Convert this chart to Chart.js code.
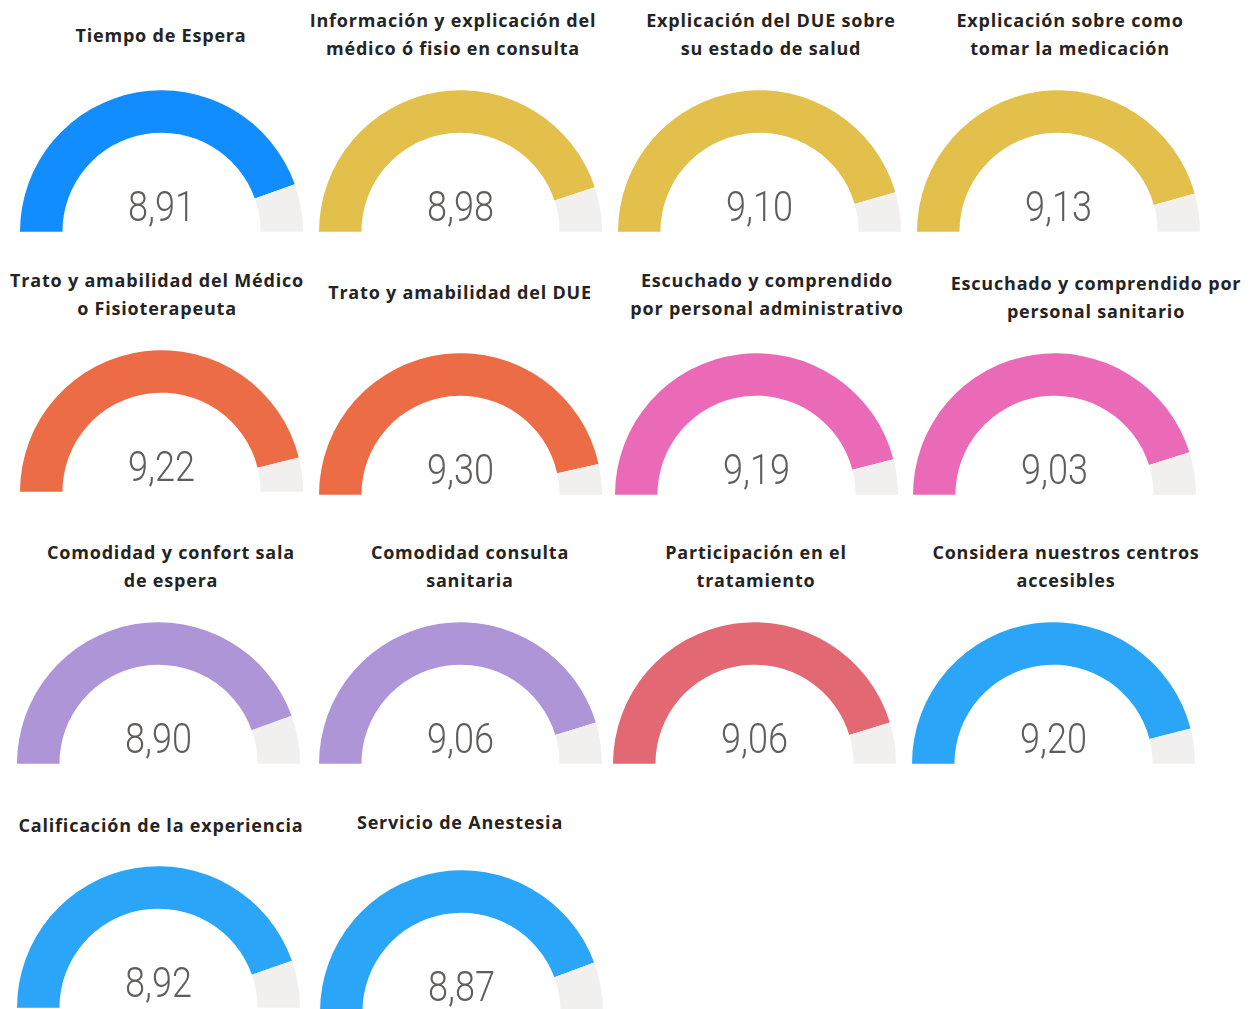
<!DOCTYPE html>
<html>
<head>
<meta charset="utf-8">
<script src="https://cdn.jsdelivr.net/npm/chart.js@4/dist/chart.umd.min.js"></script>
<style>
  html, body { margin: 0; padding: 0; background: #fff; }
  body { width: 1251px; height: 1009px; position: relative; overflow: hidden; }
  .title {
    position: absolute; width: 360px; margin-left: -180px;
    text-align: center; font-family: "Open Sans", sans-serif; font-weight: 700;
    font-size: 18px; letter-spacing: 0.8px; line-height: 28px; color: #252423; white-space: pre;
  }
  .gauge { position: absolute; width: 283px; height: 142px; }
  .value {
    position: absolute; left: 0; width: 100%; bottom: 4px;
    text-align: center; font-family: Roboto, sans-serif; font-weight: 300;
    font-size: 43px; line-height: 43px; color: #605E5C;
    transform: scaleX(0.84);
  }
</style>
</head>
<body>
<script>
// data
const titles = [
  'Tiempo de Espera',
  'Información y explicación del\nmédico ó fisio en consulta',
  'Explicación del DUE sobre\nsu estado de salud',
  'Explicación sobre como\ntomar la medicación',
  'Trato y amabilidad del Médico\no Fisioterapeuta',
  'Trato y amabilidad del DUE',
  'Escuchado y comprendido\npor personal administrativo',
  'Escuchado y comprendido por\npersonal sanitario',
  'Comodidad y confort sala\nde espera',
  'Comodidad consulta\nsanitaria',
  'Participación en el\ntratamiento',
  'Considera nuestros centros\naccesibles',
  'Calificación de la experiencia',
  'Servicio de Anestesia'
];
const values = [8.91, 8.98, 9.10, 9.13, 9.22, 9.30, 9.19, 9.03, 8.90, 9.06, 9.06, 9.20, 8.92, 8.87];
const maxValue = 10;

// styles / layout
const colors = ['#118DFF', '#E3C04B', '#E3C04B', '#E3C04B', '#EC6C45', '#EC6C45', '#EB6AB8',
  '#EB6AB8', '#AD95D7', '#AD95D7', '#E26874', '#2AA5F8', '#2AA5F8', '#2AA5F8'];
const restColor = '#F1F0EF';
const boxes = [[20, 90], [319, 90], [618, 90], [917, 90],
  [20, 350], [319, 353], [615, 353], [913, 353],
  [17, 622], [319, 622], [613, 622], [912, 622],
  [17, 866], [320, 870]];
const titlePos = [[161, 21], [453, 6], [771, 6], [1070, 6],
  [157, 266], [460, 278], [767, 266], [1096, 269],
  [171, 538], [470, 538], [756, 538], [1066, 538],
  [161, 811], [460, 808]];

titles.forEach((t, i) => {
  const title = document.createElement('div');
  title.className = 'title';
  title.style.left = titlePos[i][0] + 'px';
  title.style.top = titlePos[i][1] + 'px';
  title.textContent = t;
  document.body.appendChild(title);

  const box = document.createElement('div');
  box.className = 'gauge';
  box.style.left = boxes[i][0] + 'px';
  box.style.top = boxes[i][1] + 'px';
  const canvas = document.createElement('canvas');
  box.appendChild(canvas);
  const label = document.createElement('div');
  label.className = 'value';
  label.textContent = values[i].toFixed(2).replace('.', ',');
  box.appendChild(label);
  document.body.appendChild(box);

  new Chart(canvas.getContext('2d'), {
    type: 'doughnut',
    data: {
      labels: ['Valor', 'Resto'],
      datasets: [{
        data: [values[i], maxValue - values[i]],
        backgroundColor: [colors[i], restColor],
        borderWidth: 0
      }]
    },
    options: {
      responsive: true,
      maintainAspectRatio: false,
      animation: false,
      rotation: -90,
      circumference: 180,
      cutout: '70%',
      plugins: { legend: { display: false }, tooltip: { enabled: false } }
    }
  });
});
</script>
</body>
</html>
